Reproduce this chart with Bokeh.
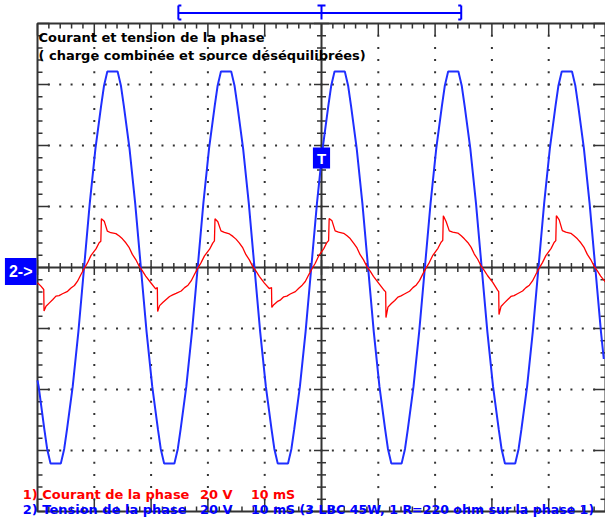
import numpy as np
from bokeh.plotting import figure
from bokeh.models import Range1d, Label
from bokeh.embed import file_html
from bokeh.resources import INLINE

# ---------------- data (time in ms, amplitude in V; 10 ms/div, 20 V/div) -------------
X_START, X_END = 0, 100
Y_START, Y_END = -80, 80
X_DIV, Y_DIV = 10, 20
N_MINOR = 5

# Channel 2 : phase voltage (blue)
blue_t = [0, 0.2, 1.2, 1.7, 2.3, 4.1, 4.7, 5.2, 6.2, 7.2,
          8.2, 9.2, 10.2, 11.2, 11.7, 12.3, 14.1, 14.7, 15.2, 16.2, 17.2,
          18.2, 19.2, 20.2, 21.2, 21.7, 22.3, 24.1, 24.7, 25.2, 26.2, 27.2,
          28.2, 29.2, 30.2, 31.2, 31.7, 32.3, 34.1, 34.7, 35.2, 36.2, 37.2,
          38.2, 39.2, 40.2, 41.2, 41.7, 42.3, 44.1, 44.7, 45.2, 46.2, 47.2,
          48.2, 49.2, 50.2, 51.2, 51.7, 52.3, 54.1, 54.7, 55.2, 56.2, 57.2,
          58.2, 59.2, 60.2, 61.2, 61.7, 62.3, 64.1, 64.7, 65.2, 66.2, 67.2,
          68.2, 69.2, 70.2, 71.2, 71.7, 72.3, 74.1, 74.7, 75.2, 76.2, 77.2,
          78.2, 79.2, 80.2, 81.2, 81.7, 82.3, 84.1, 84.7, 85.2, 86.2, 87.2,
          88.2, 89.2, 90.2, 91.2, 91.7, 92.3, 94.1, 94.7, 95.2, 96.2, 97.2,
          98.2, 99.2, 99.7]
blue_v = [-37, -39, -53, -59.5, -64.3, -64.3, -59.5, -53, -39, -21,
          0, 21, 39, 53, 59.5, 64.3, 64.3, 59.5, 53, 39, 21,
          0, -21, -39, -53, -59.5, -64.3, -64.3, -59.5, -53, -39, -21,
          0, 21, 39, 53, 59.5, 64.3, 64.3, 59.5, 53, 39, 21,
          0, -21, -39, -53, -59.5, -64.3, -64.3, -59.5, -53, -39, -21,
          0, 21, 39, 53, 59.5, 64.3, 64.3, 59.5, 53, 39, 21,
          0, -21, -39, -53, -59.5, -64.3, -64.3, -59.5, -53, -39, -21,
          0, 21, 39, 53, 59.5, 64.3, 64.3, 59.5, 53, 39, 21,
          0, -21, -39, -53, -59.5, -64.3, -64.3, -59.5, -53, -39, -21,
          0, 21, 39, 53, 59.5, 64.3, 64.3, 59.5, 53, 39, 21,
          0, -21, -30]

# Channel 1 : phase current (red)
red_t = [0, 0.6,
         1.1, 1.15, 1.5, 2.1, 2.7, 3.25, 3.8, 4.4, 5.3, 5.9, 6.5, 7.05, 7.65, 8.2, 8.8, 9.4,
         10.3, 10.85, 11.15, 11.25, 11.75, 12.3, 12.9, 13.8, 14.4, 14.95, 15.55, 16.15, 16.7,
         17.3, 17.9, 18.5, 19.05, 19.95, 20.8,
         21.1, 21.15, 21.5, 22.1, 22.7, 23.25, 23.8, 24.4, 25.3, 25.9, 26.5, 27.05, 27.65, 28.2,
         28.8, 29.4, 30.3, 30.85, 31.15, 31.25, 31.75, 32.3, 32.9, 33.8, 34.4, 34.95, 35.55,
         36.15, 36.7, 37.3, 37.9, 38.5, 39.05, 39.95, 40.8,
         41.2, 41.25, 41.6, 42.2, 42.8, 43.35, 43.9, 44.5, 45.4, 46.0, 46.6, 47.15, 47.75, 48.3,
         48.9, 49.5, 50.4, 50.95, 51.25, 51.35, 51.85, 52.4, 53.0, 53.9, 54.5, 55.05, 55.65,
         56.25, 56.8, 57.4, 58.0, 58.6, 59.15, 60.05, 60.9,
         61.3, 61.35, 61.7, 62.3, 62.9, 63.45, 64.0, 64.6, 65.5, 66.1, 66.7, 67.25, 67.85, 68.4,
         69.0, 69.6, 70.5, 71.05, 71.35, 71.45, 71.95, 72.5, 73.1, 74.0, 74.6, 75.15, 75.75,
         76.35, 76.9, 77.5, 78.1, 78.7, 79.25, 80.15, 81.0,
         81.2, 81.25, 81.6, 82.2, 82.8, 83.35, 83.9, 84.5, 85.4, 86.0, 86.6, 87.15, 87.75, 88.3,
         88.9, 89.5, 90.4, 90.95, 91.25, 91.35, 91.85, 92.4, 93.0, 93.9, 94.5, 95.05, 95.65,
         96.25, 96.8, 97.4, 98.0, 98.6, 99.15, 100.0]
red_v = [-5.0, -6.1,
         -7.2, -14.3, -12.7, -11.6, -10.5, -9.4, -9.2, -8.6, -7.8, -6.7, -5.9, -4.5, -2.3, -0.4,
         1.5, 3.9, 6.1, 8.1, 8.6, 16.0, 15.2, 11.9, 11.4, 11.1, 10.3, 9.4, 8.1, 6.5, 4.3, 2.6,
         0.4, -1.2, -2.8, -5.0, -7.0,
         -6.6, -14.4, -12.5, -11.4, -10.4, -9.5, -9.0, -8.5, -7.7, -6.6, -5.8, -4.4, -2.2, -0.3,
         1.6, 3.8, 6.0, 8.0, 8.7, 16.0, 15.0, 12.0, 11.5, 11.0, 10.2, 9.3, 8.0, 6.4, 4.2, 2.5,
         0.3, -1.3, -2.9, -5.1, -6.9,
         -6.6, -13.1, -12.2, -11.2, -10.6, -9.6, -9.4, -8.7, -7.9, -6.8, -5.8, -4.6, -2.4, -0.5,
         1.4, 3.8, 6.2, 8.2, 8.8, 16.1, 15.3, 12.0, 11.6, 11.2, 10.4, 9.5, 8.0, 6.4, 4.2, 2.5,
         0.3, -1.3, -2.9, -5.1, -7.2,
         -8.0, -16.4, -13.0, -11.8, -10.8, -9.7, -9.3, -8.7, -7.8, -6.6, -5.7, -4.3, -2.1, -0.2,
         1.7, 4.0, 6.3, 8.3, 8.9, 17.0, 15.0, 12.0, 11.6, 11.3, 10.4, 9.4, 8.2, 6.6, 4.4, 2.7,
         0.5, -1.1, -2.7, -4.9, -7.4,
         -7.9, -15.4, -12.8, -11.6, -10.5, -9.5, -9.2, -8.6, -7.7, -6.6, -5.8, -4.4, -2.2, -0.3,
         1.6, 3.9, 6.2, 8.2, 8.8, 17.0, 15.6, 12.1, 11.6, 11.2, 10.3, 9.4, 8.1, 6.5, 4.3, 2.6,
         0.4, -1.2, -2.8, -4.8]
assert len(blue_t) == len(blue_v)
assert len(red_t) == len(red_v)

title_lines = ["Courant et tension de la phase",
               "( charge combinée et source déséquilibrées)"]
legend_red = ["1) Courant de la phase", "20  V", "10 mS"]
legend_blue = ["2) Tension de la phase", "20  V",
               "10 mS (3 LBC 45W, 1 R=220 ohm sur la phase 1)"]
channel_tag = "2->"
trigger_tag = "T"
trigger_t = 50          # trigger position (ms)
trigger_level = 35.9    # level of the trigger tag (V)
window_start, window_end = 24.8, 74.6   # zoom-window bracket above the screen (ms)

# ---------------- layout / styles ----------------
W, H = 605, 519
PX_X = 568 / (X_END - X_START)     # px per ms
PX_Y = 488 / (Y_END - Y_START)     # px per V
X_LO = X_START - 37 / PX_X
X_HI = X_END
Y_LO = Y_START - 8 / PX_Y
Y_HI = Y_END + 23 / PX_Y

FRAME = "#333333"
BLUE = "#0000ff"
TRACE_BLUE = "#1f2fff"
RED = "#ff0000"
FONT = "DejaVu Sans"

p = figure(width=W, height=H,
           x_range=Range1d(X_LO, X_HI), y_range=Range1d(Y_LO, Y_HI),
           output_backend="svg", toolbar_location=None,
           x_axis_location=None, y_axis_location=None,
           min_border=0, outline_line_color=None,
           background_fill_color="white", border_fill_color="white")
p.xgrid.visible = False
p.ygrid.visible = False

x_minor = np.arange(X_START, X_END + 1e-9, X_DIV / N_MINOR)
y_minor = np.arange(Y_START, Y_END + 1e-9, Y_DIV / N_MINOR)
x_is_major = np.isclose(x_minor / X_DIV, np.round(x_minor / X_DIV))
y_is_major = np.isclose(y_minor / Y_DIV, np.round(y_minor / Y_DIV))
X_MID = (X_START + X_END) / 2
Y_MID = (Y_START + Y_END) / 2

# dotted graticule
dx, dy = [], []
for x in x_minor[x_is_major][1:-1]:
    if x != X_MID:
        dx += [x] * (len(y_minor) - 2); dy += list(y_minor[1:-1])
for y in y_minor[y_is_major][1:-1]:
    if y != Y_MID:
        dy += [y] * (len(x_minor) - 2); dx += list(x_minor[1:-1])
p.scatter(dx, dy, marker="square", size=2, fill_color=FRAME, line_color=None)

# screen frame + center cross
p.quad(left=X_START, right=X_END, bottom=Y_START, top=Y_END,
       fill_color=None, line_color=FRAME, line_width=2)
p.segment(x0=[X_START, X_MID], y0=[Y_MID, Y_START], x1=[X_END, X_MID], y1=[Y_MID, Y_END],
          line_color=FRAME, line_width=2)

# edge ticks (inward): major 12 px, minor 5 px
lx = np.where(x_is_major, 12, 5)
ly = np.where(y_is_major, 12, 5)
x0 = np.concatenate([x_minor, x_minor, np.full(len(y_minor), X_START), np.full(len(y_minor), X_END)])
x1 = np.concatenate([x_minor, x_minor, X_START + ly / PX_X, X_END - ly / PX_X])
y0 = np.concatenate([np.full(len(x_minor), Y_END), np.full(len(x_minor), Y_START), y_minor, y_minor])
y1 = np.concatenate([Y_END - lx / PX_Y, Y_START + lx / PX_Y, y_minor, y_minor])
p.segment(x0=x0, y0=y0, x1=x1, y1=y1, line_color=FRAME, line_width=1.5)

# center-cross ticks: major +-7.5 px, minor +-4.5 px
cx = np.where(x_is_major, 7.5, 4.5)
cy = np.where(y_is_major, 7.5, 4.5)
p.segment(x0=np.concatenate([x_minor, X_MID - cy / PX_X]),
          x1=np.concatenate([x_minor, X_MID + cy / PX_X]),
          y0=np.concatenate([Y_MID - cx / PX_Y, y_minor]),
          y1=np.concatenate([Y_MID + cx / PX_Y, y_minor]),
          line_color=FRAME, line_width=1.5)

# traces
p.line(blue_t, blue_v, line_color=TRACE_BLUE, line_width=2)
p.line(red_t, red_v, line_color=RED, line_width=1.3)

# window bracket above the screen
ym = Y_END + 10.5 / PX_Y
yb = Y_END + 4 / PX_Y
yt = Y_END + 18 / PX_Y
serif = 3 / PX_X
tbar = 4 / PX_X
p.segment(x0=[window_start, window_start, window_start, window_start,
              window_end, window_end, window_end, trigger_t, trigger_t - tbar],
          y0=[ym, yb, yb, yt, yb, yb, yt, yb, yt],
          x1=[window_end, window_start, window_start + serif, window_start + serif,
              window_end, window_end - serif, window_end - serif, trigger_t, trigger_t + tbar],
          y1=[ym, yt, yb, yt, yt, yb, yt, yt, yt],
          line_color=BLUE, line_width=2)

# tags
p.add_layout(Label(x=X_START, y=Y_MID, x_offset=-1, y_offset=-4, text=channel_tag,
                   text_align="right", text_baseline="middle", text_color="white",
                   text_font="Liberation Sans", text_font_style="bold", text_font_size="16px",
                   background_fill_color=BLUE, padding=(4, 5)))
p.add_layout(Label(x=trigger_t, y=trigger_level, text=trigger_tag, text_align="center",
                   text_baseline="middle", text_color="white", text_font="Liberation Sans",
                   text_font_style="bold", text_font_size="15px",
                   background_fill_color=BLUE, padding=(4, 2)))

# texts
for txt, yv in zip(title_lines, [75.3, 69.5]):
    p.add_layout(Label(x=X_START, y=yv, x_offset=1, text=txt, text_color="black",
                       text_font=FONT, text_font_style="bold", text_font_size="13px",
                       text_baseline="alphabetic"))
for texts, yv, col in [(legend_red, -74.4, RED), (legend_blue, -79.3, BLUE)]:
    for txt, xv, fs in zip(texts, [-2.6, 28.6, 37.6], ["13px", "13px", "12.6px"]):
        p.add_layout(Label(x=xv, y=yv, text=txt, text_color=col,
                           text_font=FONT, text_font_style="bold", text_font_size=fs,
                           text_baseline="alphabetic"))

open("out.html", "w").write(file_html(p, INLINE))
